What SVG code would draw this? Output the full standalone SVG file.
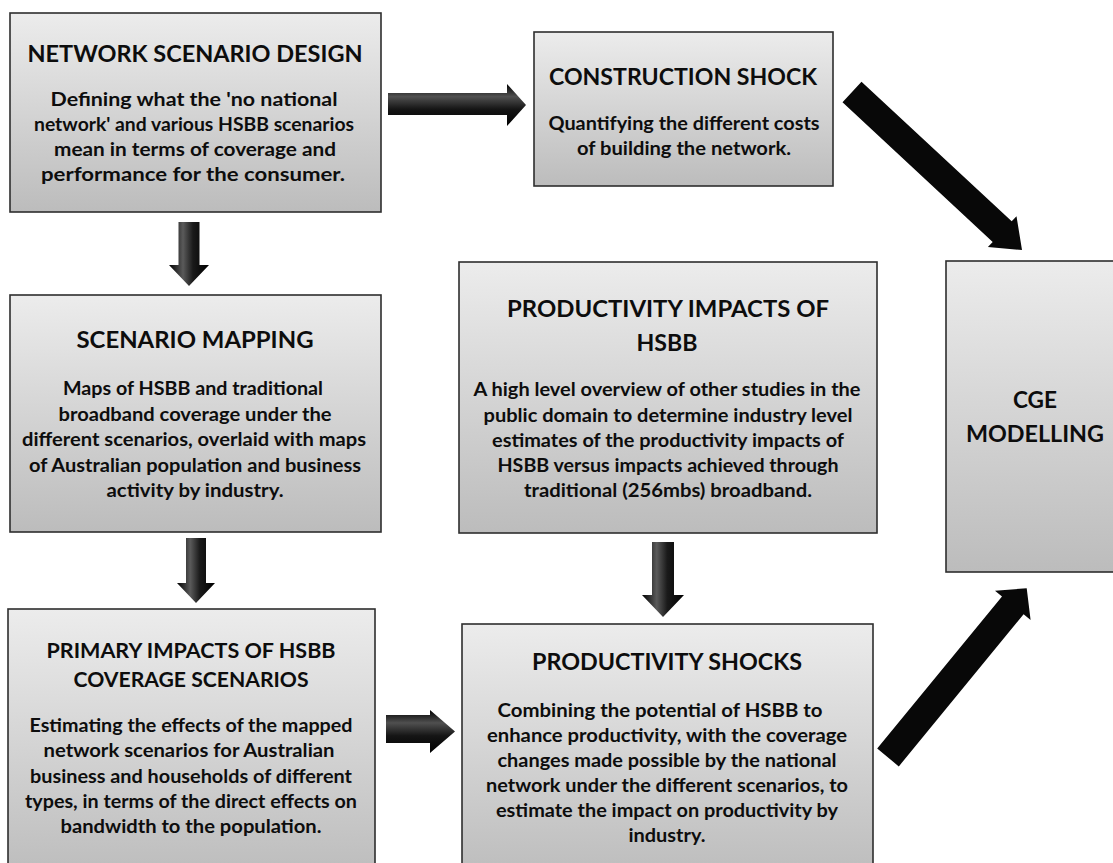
<svg xmlns="http://www.w3.org/2000/svg" width="1113" height="863" viewBox="0 0 1113 863">
<defs>
<linearGradient id="boxg" x1="0" y1="0" x2="0" y2="1">
<stop offset="0" stop-color="#ececec"/>
<stop offset="1" stop-color="#bcbcbc"/>
</linearGradient>
<linearGradient id="vg" x1="0" y1="0" x2="1" y2="0">
<stop offset="0" stop-color="#000"/>
<stop offset="0.35" stop-color="#5a5a5a"/>
<stop offset="0.6" stop-color="#1a1a1a"/>
<stop offset="1" stop-color="#000"/>
</linearGradient>
<linearGradient id="hg" x1="0" y1="0" x2="0" y2="1">
<stop offset="0" stop-color="#000"/>
<stop offset="0.3" stop-color="#505050"/>
<stop offset="0.6" stop-color="#151515"/>
<stop offset="1" stop-color="#000"/>
</linearGradient>
</defs>
<style>
.box{fill:url(#boxg);stroke:#2e2e2e;stroke-width:1.6}
text{font-family:Lato,"Liberation Sans",sans-serif;font-weight:bold;fill:#0d0d0d;text-anchor:middle}
.t{font-size:23px}
.t2{font-size:21px}
.b{font-size:19px}
.va{fill:url(#vg)}
.ha{fill:url(#hg)}
.da{fill:#080808}
</style>
<rect width="1113" height="863" fill="#fff"/>

<g id="connectors">
<polygon class="ha" points="388,93 507,93 507,84 526,105 507,126 507,115 388,115"/>
<polygon class="da" points="861.5,81.7 1011.7,221.3 1016.5,216.2 1022,250 987.9,247 992.7,241.9 842.5,102.3"/>
<polygon class="va" points="178.5,222 199.5,222 199.5,265 209,265 189,286 169,265 178.5,265"/>
<polygon class="va" points="186,538 206,538 206,583 215,583 196,603 177,583 186,583"/>
<polygon class="va" points="652,542 674,542 674,595 684,595 663,617 642,595 652,595"/>
<polygon class="ha" points="386,715 430,715 430,710 455,731.5 430,753 430,743 386,743"/>
<polygon class="da" points="877.2,748.6 1002,596.4 995,590.7 1026.7,588.3 1030.6,619.9 1023.6,614.2 898.8,766.4"/>
</g>

<g id="network-scenario-design">
<rect class="box" x="10" y="13" width="371" height="199"/>
<text class="t" x="195" y="62" textLength="335" lengthAdjust="spacingAndGlyphs">NETWORK SCENARIO DESIGN</text>
<text class="b" x="194" y="106" textLength="287" lengthAdjust="spacingAndGlyphs">Defining what the 'no national</text>
<text class="b" x="194" y="131" textLength="320" lengthAdjust="spacingAndGlyphs">network' and various HSBB scenarios</text>
<text class="b" x="195" y="156" textLength="282" lengthAdjust="spacingAndGlyphs">mean in terms of coverage and</text>
<text class="b" x="193" y="181" textLength="304" lengthAdjust="spacingAndGlyphs">performance for the consumer.</text>
</g>

<g id="construction-shock">
<rect class="box" x="534" y="32" width="299" height="154"/>
<text class="t" x="683" y="85" textLength="268" lengthAdjust="spacingAndGlyphs">CONSTRUCTION SHOCK</text>
<text class="b" x="684" y="130" textLength="271" lengthAdjust="spacingAndGlyphs">Quantifying the different costs</text>
<text class="b" x="684" y="155" textLength="214" lengthAdjust="spacingAndGlyphs">of building the network.</text>
</g>

<g id="scenario-mapping">
<rect class="box" x="10" y="295" width="371" height="237"/>
<text class="t" x="195" y="348" textLength="237" lengthAdjust="spacingAndGlyphs">SCENARIO MAPPING</text>
<text class="b" x="193" y="395" textLength="260" lengthAdjust="spacingAndGlyphs">Maps of HSBB and traditional</text>
<text class="b" x="195" y="421" textLength="273" lengthAdjust="spacingAndGlyphs">broadband coverage under the</text>
<text class="b" x="194" y="446" textLength="344" lengthAdjust="spacingAndGlyphs">different scenarios, overlaid with maps</text>
<text class="b" x="195" y="472" textLength="332" lengthAdjust="spacingAndGlyphs">of Australian population and business</text>
<text class="b" x="195" y="497" textLength="177" lengthAdjust="spacingAndGlyphs">activity by industry.</text>
</g>

<g id="productivity-impacts">
<rect class="box" x="459" y="262" width="418" height="271"/>
<text class="t" x="668" y="317" textLength="322" lengthAdjust="spacingAndGlyphs">PRODUCTIVITY IMPACTS OF</text>
<text class="t" x="667" y="351" textLength="61" lengthAdjust="spacingAndGlyphs">HSBB</text>
<text class="b" x="667" y="396" textLength="387" lengthAdjust="spacingAndGlyphs">A high level overview of other studies in the</text>
<text class="b" x="668" y="422" textLength="369" lengthAdjust="spacingAndGlyphs">public domain to determine industry level</text>
<text class="b" x="668" y="447" textLength="352" lengthAdjust="spacingAndGlyphs">estimates of the productivity impacts of</text>
<text class="b" x="668" y="472" textLength="341" lengthAdjust="spacingAndGlyphs">HSBB versus impacts achieved through</text>
<text class="b" x="668" y="497" textLength="288" lengthAdjust="spacingAndGlyphs">traditional (256mbs) broadband.</text>
</g>

<g id="cge-modelling">
<rect class="box" x="946" y="261" width="180" height="311"/>
<text class="t" x="1035" y="408" textLength="44" lengthAdjust="spacingAndGlyphs">CGE</text>
<text class="t" x="1035" y="442" textLength="138" lengthAdjust="spacingAndGlyphs">MODELLING</text>
</g>

<g id="primary-impacts">
<rect class="box" x="8" y="609" width="367" height="270"/>
<text class="t2" x="191" y="658" textLength="289" lengthAdjust="spacingAndGlyphs">PRIMARY IMPACTS OF HSBB</text>
<text class="t2" x="191" y="687" textLength="235" lengthAdjust="spacingAndGlyphs">COVERAGE SCENARIOS</text>
<text class="b" x="191" y="732" textLength="323" lengthAdjust="spacingAndGlyphs">Estimating the effects of the mapped</text>
<text class="b" x="189" y="757" textLength="291" lengthAdjust="spacingAndGlyphs">network scenarios for Australian</text>
<text class="b" x="191" y="783" textLength="322" lengthAdjust="spacingAndGlyphs">business and households of different</text>
<text class="b" x="191" y="808" textLength="332" lengthAdjust="spacingAndGlyphs">types, in terms of the direct effects on</text>
<text class="b" x="191" y="833" textLength="261" lengthAdjust="spacingAndGlyphs">bandwidth to the population.</text>
</g>

<g id="productivity-shocks">
<rect class="box" x="462" y="624" width="411" height="255"/>
<text class="t" x="667" y="670" textLength="270" lengthAdjust="spacingAndGlyphs">PRODUCTIVITY SHOCKS</text>
<text class="b" x="660" y="717" textLength="325" lengthAdjust="spacingAndGlyphs">Combining the potential of HSBB to</text>
<text class="b" x="667" y="742" textLength="360" lengthAdjust="spacingAndGlyphs">enhance productivity, with the  coverage</text>
<text class="b" x="667" y="767" textLength="339" lengthAdjust="spacingAndGlyphs">changes made possible by the national</text>
<text class="b" x="667" y="792" textLength="362" lengthAdjust="spacingAndGlyphs">network under the different scenarios, to</text>
<text class="b" x="667" y="817" textLength="342" lengthAdjust="spacingAndGlyphs">estimate the impact on productivity by</text>
<text class="b" x="667" y="842" textLength="77" lengthAdjust="spacingAndGlyphs">industry.</text>
</g>
</svg>
